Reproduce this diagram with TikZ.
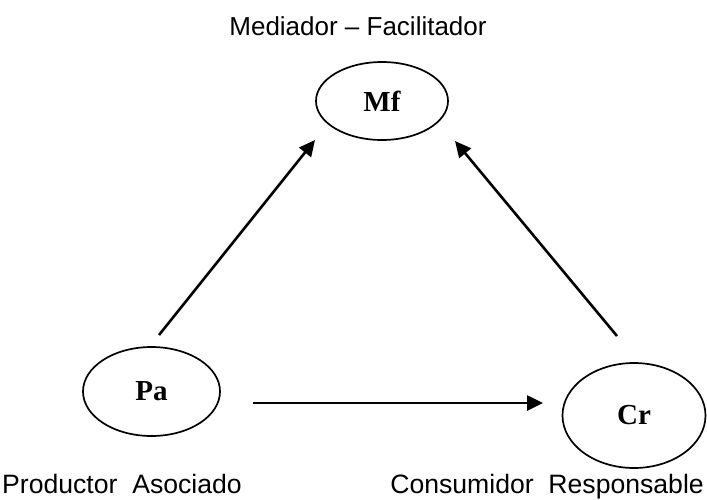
\documentclass[tikz,border=0pt]{standalone}
\usepackage{fontspec}
\setmainfont{Liberation Serif}
\setsansfont{Liberation Sans}
\usetikzlibrary{shapes.geometric,arrows.meta}
\begin{document}
\begin{tikzpicture}[x=1pt,y=-1pt,
  oval/.style={draw,ellipse,line width=1.7pt,inner sep=0pt,
    font=\fontsize{29}{32}\selectfont\bfseries},
  lbl/.style={anchor=base,inner sep=0pt,font=\sffamily\fontsize{26}{30}\selectfont},
  arr/.style={line width=2.6pt,-{Triangle[length=16pt,width=15pt]}}]
\useasboundingbox (0,0) rectangle (707,499);
\node[oval,minimum width=132pt,minimum height=78pt] (mf) at (382,101) {Mf};
\node[oval,minimum width=137pt,minimum height=89pt] (pa) at (151.5,391.5) {Pa};
\node[oval,minimum width=143pt,minimum height=105pt] (cr) at (634,415.5) {Cr};
\node[lbl] (tmf) at (358,35) {Mediador -- Facilitador};
\node[lbl,anchor=base west,font=\sffamily\fontsize{26.6}{30}\selectfont] (tpa) at (2,493) {Productor\ \ Asociado};
\node[lbl,anchor=base east,font=\sffamily\fontsize{26.6}{30}\selectfont] (tcr) at (704,493) {Consumidor\ \ Responsable};
\coordinate (p1) at (159,335);
\coordinate (p2) at (315,140);
\coordinate (c1) at (617,336);
\coordinate (c2) at (455,141);
\coordinate (h1) at (253,403);
\coordinate (h2) at (543,403);
\draw[arr] (p1) -- (p2);
\draw[arr] (c1) -- (c2);
\draw[arr] (h1) -- (h2);
\end{tikzpicture}
\end{document}
